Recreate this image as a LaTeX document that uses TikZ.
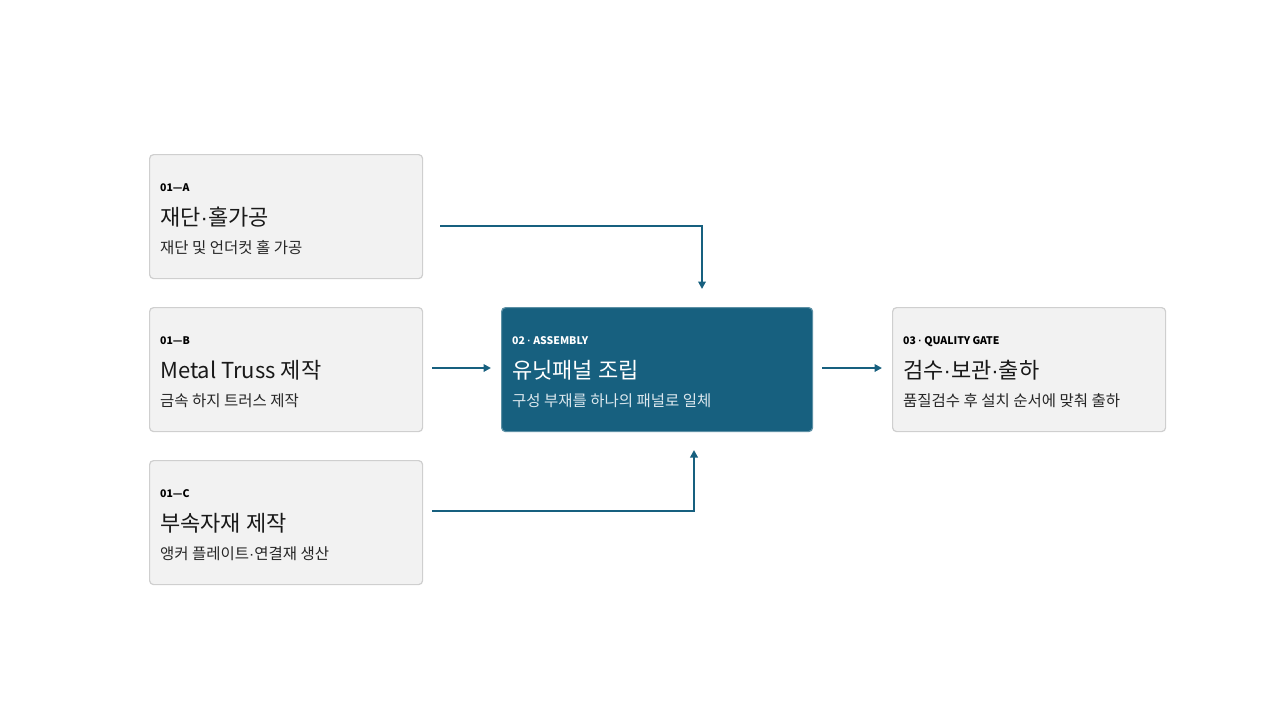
\documentclass[tikz,border=0pt]{standalone}
\usepackage{fontspec}
\setmainfont{Noto Sans CJK KR}
\newfontfamily\dotfont{Liberation Sans}
\newcommand{\mdt}{{\dotfont ·}}
\usetikzlibrary{arrows.meta}
\definecolor{boxfill}{HTML}{F2F2F2}
\definecolor{boxline}{HTML}{CFCFCF}
\definecolor{navy}{HTML}{17607F}
\definecolor{subw}{HTML}{DCE8EE}
\tikzset{
  card/.style={draw=boxline, line width=1.2pt, fill=boxfill, rounded corners=4pt, minimum width=273pt, minimum height=124pt, anchor=north west, inner sep=0pt},
  hero/.style={card, fill=navy, draw=navy!70!white, minimum width=311pt},
  tag/.style={anchor=base west, inner sep=0pt, font=\fontsize{10.5}{12}\selectfont\bfseries, text=black},
  ttl/.style={anchor=base west, inner sep=0pt, font=\fontsize{22}{26}\selectfont, text=black!90},
  sub/.style={anchor=base west, inner sep=0pt, font=\fontsize{15.5}{18}\selectfont, text=black!85},
  flow/.style={draw=navy, line width=2pt, -{Triangle[length=7.5pt,width=7.5pt]}}
}
\begin{document}
\begin{tikzpicture}[x=1pt,y=-1pt]
\useasboundingbox (0,0) rectangle (1280,720);
% cards
\node[card] (a) at (149,154) {};
\node[card] (b) at (149,307) {};
\node[card] (c) at (149,460) {};
\node[hero] (m) at (501,307) {};
\node[card] (q) at (892,307) {};
% texts A
\node[tag] (at) at (160,191) {01—A};
\node[ttl] (ah) at (160,225) {재단\mdt 홀가공};
\node[sub] (as) at (160,253) {재단 및 언더컷 홀 가공};
% texts B
\node[tag] (bt) at (160,344) {01—B};
\node[ttl] (bh) at (160,378) {Metal Truss 제작};
\node[sub] (bs) at (160,406) {금속 하지 트러스 제작};
% texts C
\node[tag] (ct) at (160,497) {01—C};
\node[ttl] (ch) at (160,531) {부속자재 제작};
\node[sub] (cs) at (160,559) {앵커 플레이트\mdt 연결재 생산};
% texts M
\node[tag, text=white] (mt) at (512,344) {02 \mdt\ ASSEMBLY};
\node[ttl, text=white] (mh) at (512,378) {유닛패널 조립};
\node[sub, text=subw] (ms) at (512,406) {구성 부재를 하나의 패널로 일체};
% texts Q
\node[tag] (qt) at (903,344) {03 \mdt\ QUALITY GATE};
\node[ttl] (qh) at (903,378) {검수\mdt 보관\mdt 출하};
\node[sub] (qs) at (903,406) {품질검수 후 설치 순서에 맞춰 출하};
% connector ends
\coordinate (a0) at (440,226);
\coordinate (a1) at (702,289);
\coordinate (b0) at (432,368);
\coordinate (b1) at (491,368);
\coordinate (c0) at (432,511);
\coordinate (c1) at (694,450);
\coordinate (m0) at (822,368);
\coordinate (m1) at (882,368);
\draw[flow] (a0) -| (a1);
\draw[flow] (b0) -- (b1);
\draw[flow] (c0) -| (c1);
\draw[flow] (m0) -- (m1);
\end{tikzpicture}
\end{document}
